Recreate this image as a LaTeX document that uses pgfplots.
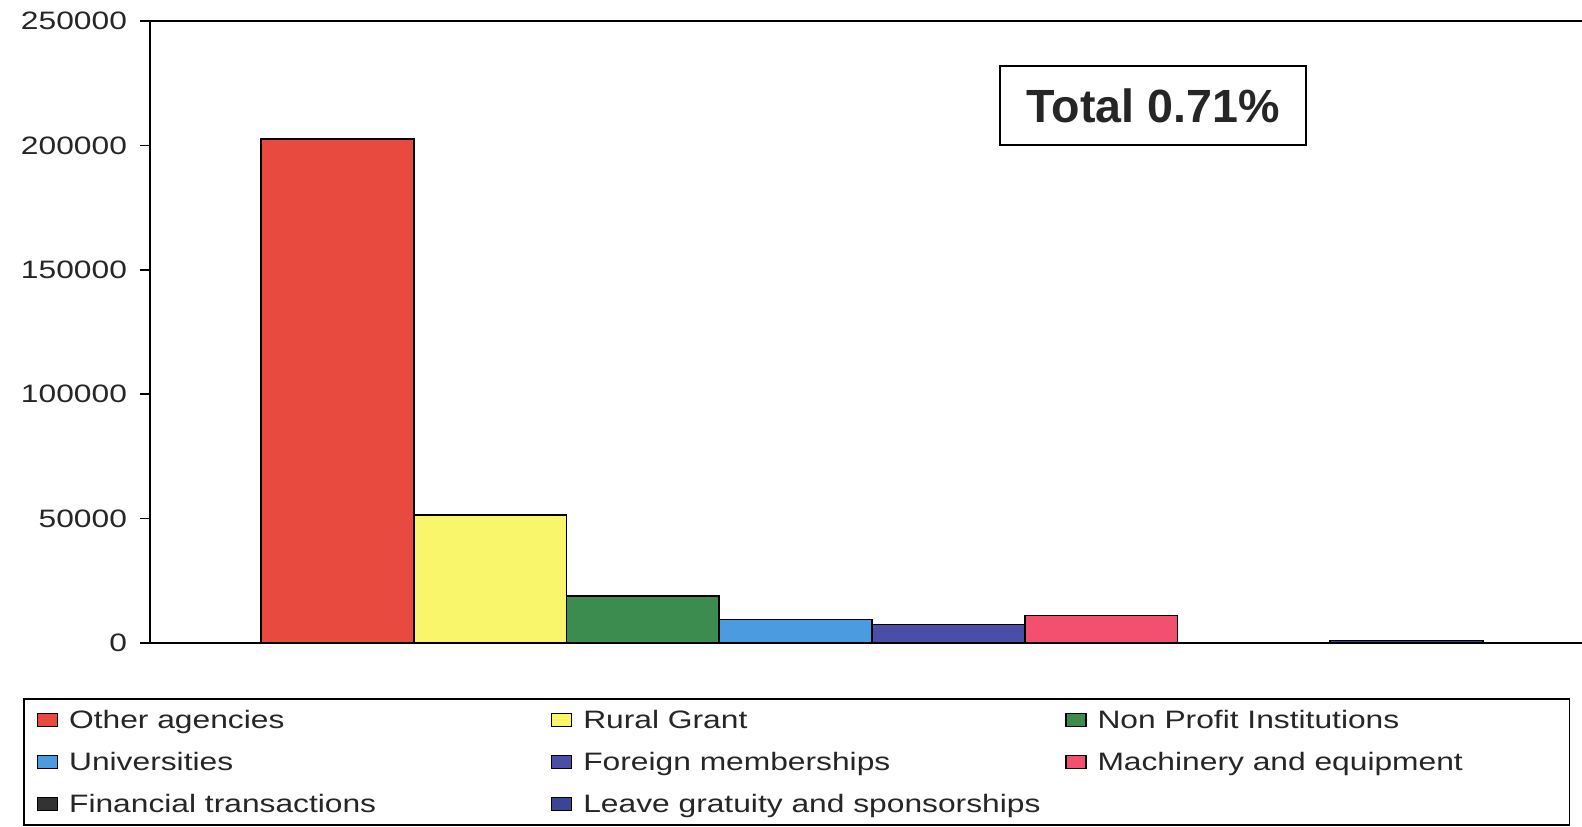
\documentclass[border=0pt]{standalone}
\usepackage{pgfplots}
\pgfplotsset{compat=1.18}
\usepackage{fontspec}
\setmainfont{Liberation Sans}
\usepackage{graphicx}
\definecolor{cOther}{HTML}{E84A3F}
\definecolor{cRural}{HTML}{FAF66C}
\definecolor{cNonProfit}{HTML}{3C8C50}
\definecolor{cUni}{HTML}{4A9BE0}
\definecolor{cForeign}{HTML}{4A4EA6}
\definecolor{cMach}{HTML}{F2506E}
\definecolor{cFin}{HTML}{333333}
\definecolor{cLeave}{HTML}{3A4596}
\newcommand\tl[1]{\scalebox{1.26}[1]{#1}}
\newcommand\lA[1]{\makebox[235.5pt][l]{\scalebox{1.26}[1]{#1}}}
\newcommand\lC[1]{\makebox[224pt][l]{\scalebox{1.26}[1]{#1}}}
\begin{document}
\begin{tikzpicture}
\path[use as bounding box, clip] (0,0) rectangle (791pt,413pt);
\begin{axis}[
  at={(75pt,91.5pt)}, anchor=south west,
  scale only axis, width=727.6pt, height=311pt,
  xmin=-1.227, xmax=8.3, ymin=0, ymax=250000,
  enlargelimits=false,
  scaled y ticks=false,
  xtick=\empty,
  ytick={0,50000,100000,150000,200000,250000},
  yticklabels={\tl{0},\tl{50000},\tl{100000},\tl{150000},\tl{200000},\tl{250000}},
  ytick pos=left, tick align=outside, major tick length=5pt,
  tick style={line width=0.8pt, black},
  axis line style={line width=0.8pt, black},
  ticklabel style={font=\fontsize{12.6}{15}\selectfont, text=black!85},
  yticklabel style={xshift=-3pt},
  legend columns=3,
  legend cell align=left,
  legend style={at={(-0.08727,-0.08842)}, anchor=north west, draw=black,
    line width=0.9pt, inner xsep=6.5pt, inner ysep=4.5pt, row sep=9pt,
    font=\fontsize{12.6}{15}\selectfont, text=black!85,
    nodes={inner xsep=5.5pt, inner ysep=0pt, text height=10.5pt, text depth=1.5pt}},
  legend image code/.code={\draw[#1, line width=0.6pt] (0pt,-3.25pt) rectangle (10pt,3.25pt);},
]
\addplot[ybar, bar width=1, bar shift=0pt, fill=cOther, draw=black, line width=0.8pt] coordinates {(0,202500)};
\addlegendentry{\lA{Other agencies}}
\addplot[ybar, bar width=1, bar shift=0pt, fill=cRural, draw=black, line width=0.8pt] coordinates {(1,51500)};
\addlegendentry{\lA{Rural Grant}}
\addplot[ybar, bar width=1, bar shift=0pt, fill=cNonProfit, draw=black, line width=0.8pt] coordinates {(2,19000)};
\addlegendentry{\lC{Non Profit Institutions}}
\addplot[ybar, bar width=1, bar shift=0pt, fill=cUni, draw=black, line width=0.8pt] coordinates {(3,9500)};
\addlegendentry{\lA{Universities}}
\addplot[ybar, bar width=1, bar shift=0pt, fill=cForeign, draw=black, line width=0.8pt] coordinates {(4,7500)};
\addlegendentry{\lA{Foreign memberships}}
\addplot[ybar, bar width=1, bar shift=0pt, fill=cMach, draw=black, line width=0.8pt] coordinates {(5,11000)};
\addlegendentry{\lC{Machinery and equipment}}
\addplot[ybar, bar width=1, bar shift=0pt, fill=cFin, draw=black, line width=0.8pt] coordinates {(6,0)};
\addlegendentry{\lA{Financial transactions}}
\addplot[ybar, bar width=1, bar shift=0pt, fill=cLeave, draw=black, line width=0.8pt] coordinates {(7,1000)};
\addlegendentry{\lA{Leave gratuity and sponsorships}}
\end{axis}
\node[draw=black, line width=0.9pt, minimum width=153pt, minimum height=39.5pt, inner sep=0pt,
  font=\fontsize{23.3}{28}\selectfont\bfseries, text=black!85] at (576.5pt,360.25pt) {Total 0.71\%};
\end{tikzpicture}
\end{document}
